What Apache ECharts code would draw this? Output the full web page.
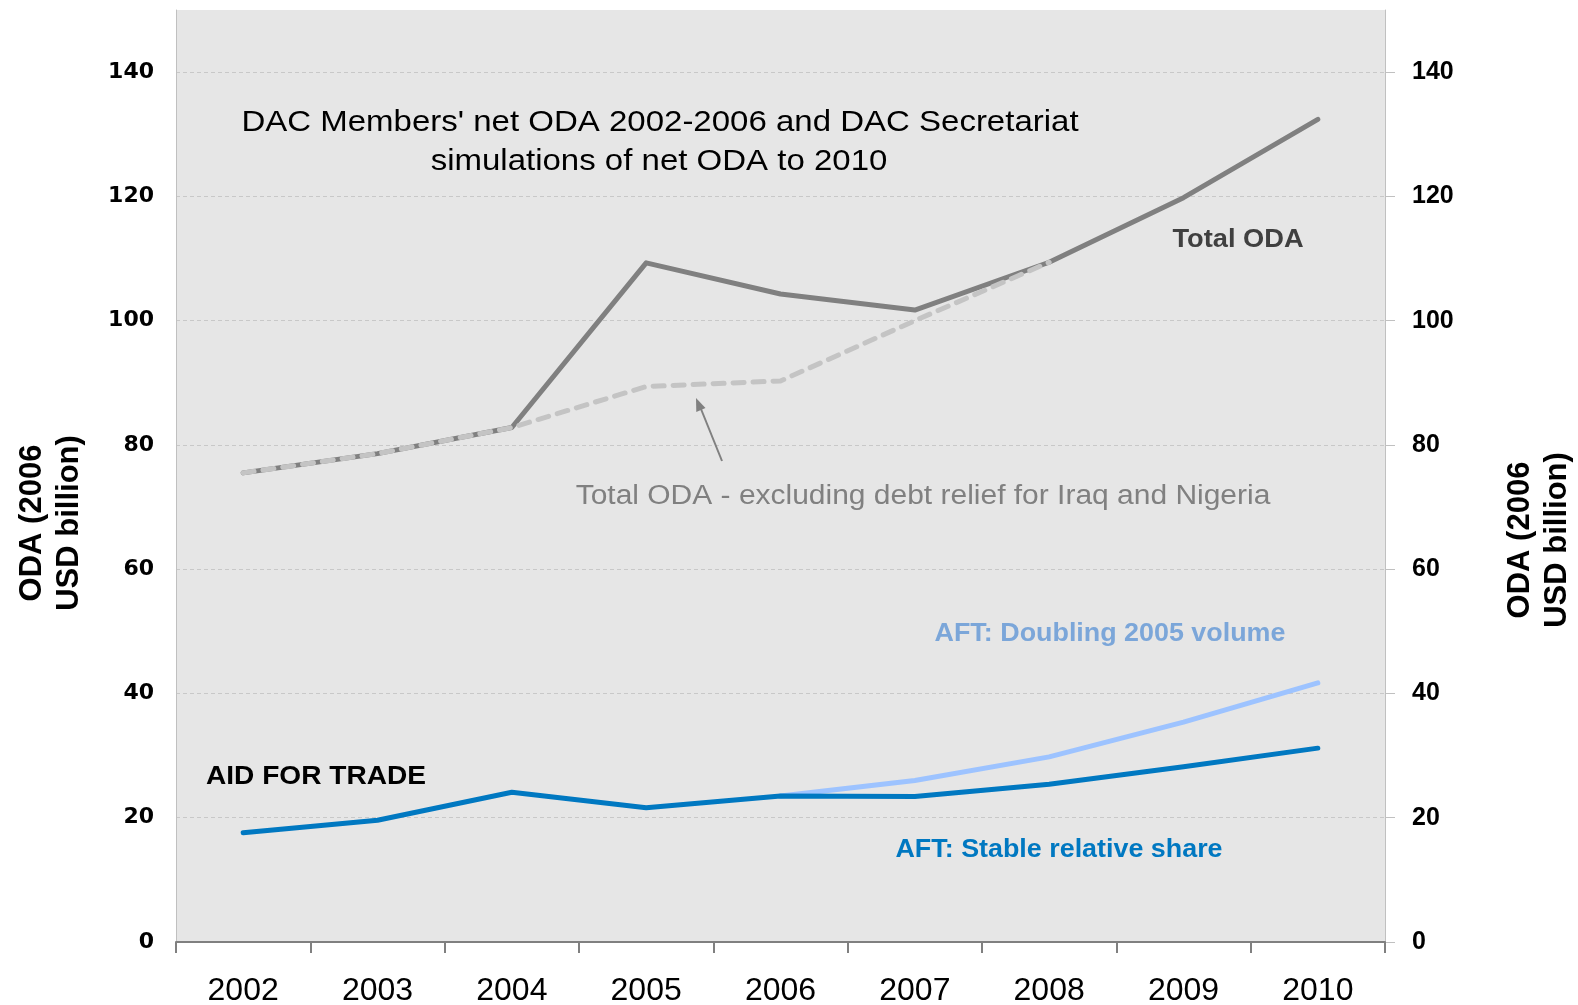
<!DOCTYPE html>
<html>
<head>
<meta charset="utf-8">
<script src="https://cdn.jsdelivr.net/npm/echarts@6/dist/echarts.min.js"></script>
<style>
html,body{margin:0;padding:0;background:#fff;}
#chart{width:1578px;height:1005px;}
</style>
</head>
<body>
<div id="chart"></div>
<script>
var years = ['2002','2003','2004','2005','2006','2007','2008','2009','2010'];
var totalODA = [75.5, 78.6, 82.8, 109.3, 104.3, 101.7, 109.4, 119.8, 132.4];
var totalExclDebt = [75.5, 78.6, 82.8, 89.4, 90.3, 100.0, 109.4, null, null];
var aftDoubling = [null, null, null, null, 23.5, 26.0, 29.8, 35.4, 41.7];
var aftStable = [17.6, 19.6, 24.1, 21.6, 23.5, 23.4, 25.4, 28.2, 31.2];
var yTicks = [0, 20, 40, 60, 80, 100, 120, 140];

var FONT = "'Liberation Sans', Arial, sans-serif";
var chart = echarts.init(document.getElementById('chart'), null, {renderer: 'canvas'});

var gridColors = ['#c8c8c8','#c8c8c8','#c8c8c8','#c8c8c8','#c8c8c8','#c8c8c8','#c8c8c8','#c8c8c8','rgba(0,0,0,0)'];

function txt(x, y, text, opts) {
  return {
    type: 'text', x: x, y: y, z: 100,
    scaleX: opts.scaleX || 1,
    rotation: opts.rotation || 0,
    style: {
      text: text,
      x: 0, y: 0,
      fill: opts.color || '#000',
      font: (opts.weight || 'normal') + ' ' + opts.size + 'px ' + (opts.family || FONT),
      textAlign: opts.align || 'center',
      textVerticalAlign: 'middle',
      lineHeight: opts.lineHeight || opts.size * 1.2
    }
  };
}

var option = {
  animation: false,
  backgroundColor: '#ffffff',
  grid: {
    left: 176, right: 193, top: 10, bottom: 63,
    outerBoundsMode: 'none', containLabel: false,
    show: true, backgroundColor: '#e6e6e6', borderWidth: 0
  },
  xAxis: {
    type: 'category',
    data: years,
    boundaryGap: true,
    axisLine: {lineStyle: {color: '#808080', width: 2}},
    axisTick: {show: true, length: 11, lineStyle: {color: '#808080', width: 2}},
    axisLabel: {fontSize: 32, color: '#000', fontFamily: FONT, margin: 33},
    splitLine: {show: false}
  },
  yAxis: [
    {
      type: 'value', position: 'left', min: 0, max: 150, interval: 20,
      axisLine: {show: true, lineStyle: {color: '#c0c0c0', width: 1}},
      axisTick: {show: false},
      axisLabel: {
        customValues: yTicks,
        fontSize: 22, fontWeight: 'bold', color: '#000',
        fontFamily: "'DejaVu Sans', sans-serif", margin: 22
      },
      splitLine: {show: true, lineStyle: {color: gridColors, type: [4, 3], width: 1}}
    },
    {
      type: 'value', position: 'right', min: 0, max: 150, interval: 20,
      axisLine: {show: true, lineStyle: {color: '#c0c0c0', width: 1}},
      axisTick: {show: true, customValues: yTicks, length: 10, lineStyle: {color: '#c0c0c0', width: 1}},
      axisLabel: {
        customValues: yTicks,
        fontSize: 25, fontWeight: 'bold', color: '#000',
        fontFamily: FONT, margin: 27
      },
      splitLine: {show: false}
    }
  ],
  series: [
    {
      name: 'Total ODA', type: 'line', data: totalODA, yAxisIndex: 0,
      symbol: 'none', z: 2,
      lineStyle: {color: '#808080', width: 5, cap: 'round', join: 'round'}
    },
    {
      name: 'Total ODA - excluding debt relief for Iraq and Nigeria', type: 'line',
      data: totalExclDebt, yAxisIndex: 0, symbol: 'none', z: 3,
      lineStyle: {color: '#c4c4c4', width: 5, type: [11, 9], cap: 'round', join: 'round'}
    },
    {
      name: 'AFT: Doubling 2005 volume', type: 'line', data: aftDoubling, yAxisIndex: 0,
      symbol: 'none', z: 2,
      lineStyle: {color: '#9dc3ff', width: 5, cap: 'round', join: 'round'}
    },
    {
      name: 'AFT: Stable relative share', type: 'line', data: aftStable, yAxisIndex: 0,
      symbol: 'none', z: 3,
      lineStyle: {color: '#0078c1', width: 5, cap: 'round', join: 'round'}
    }
  ],
  graphic: [
    txt(660, 123, "DAC Members' net ODA 2002-2006 and DAC Secretariat", {size: 30, scaleX: 1.1}),
    txt(659, 162, "simulations of net ODA to 2010", {size: 30, scaleX: 1.1}),
    txt(1238, 240, 'Total ODA', {size: 25, weight: 'bold', color: '#404040', scaleX: 1.09}),
    txt(923, 497, 'Total ODA - excluding debt relief for Iraq and Nigeria', {size: 27, color: '#808080', scaleX: 1.11}),
    txt(1110, 634, 'AFT: Doubling 2005 volume', {size: 25, weight: 'bold', color: '#7ba6d9', scaleX: 1.075}),
    txt(316, 777, 'AID FOR TRADE', {size: 26, weight: 'bold', color: '#000', scaleX: 1.08}),
    txt(1059, 850, 'AFT: Stable relative share', {size: 25, weight: 'bold', color: '#0078c1', scaleX: 1.075}),
    txt(51, 523, 'ODA (2006\nUSD billion)', {size: 31, weight: 'bold', color: '#000', rotation: Math.PI / 2, lineHeight: 37}),
    txt(1539, 540, 'ODA (2006\nUSD billion)', {size: 31, weight: 'bold', color: '#000', rotation: Math.PI / 2, lineHeight: 37}),
    {
      type: 'line', z: 100,
      shape: {x1: 722, y1: 461, x2: 701, y2: 409},
      style: {stroke: '#808080', lineWidth: 2}
    },
    {
      type: 'polygon', z: 100,
      shape: {points: [[696, 398], [705.5, 408.1], [696.3, 411.9]]},
      style: {fill: '#808080'}
    }
  ]
};
chart.setOption(option);
</script>
</body>
</html>
